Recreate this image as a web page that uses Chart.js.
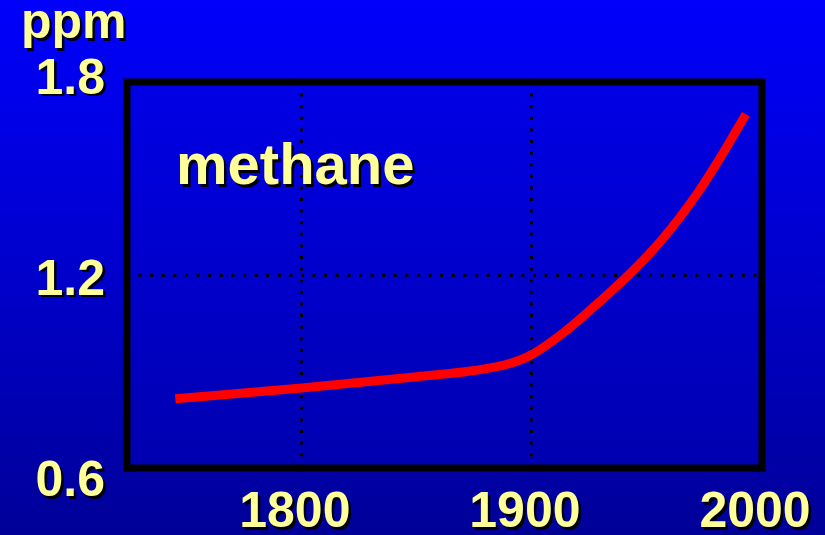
<!DOCTYPE html>
<html>
<head>
<meta charset="utf-8">
<script src="https://cdn.jsdelivr.net/npm/chart.js@4/dist/chart.umd.min.js"></script>
<style>
  html, body { margin: 0; padding: 0; }
  body {
    width: 825px; height: 535px; overflow: hidden;
    background: linear-gradient(to bottom, #0000fc 0%, #0000c8 55%, #000098 100%);
  }
  #chart { display: block; }
</style>
</head>
<body>
<canvas id="chart" width="825" height="535"></canvas>
<script>
// methane concentration (ppm)
const years   = [1745, 1800, 1850, 1875, 1890, 1900, 1914, 1928, 1943, 1957, 1972, 1983, 1993];
const methane = [0.815, 0.849, 0.884, 0.903, 0.924, 0.953, 1.022, 1.108, 1.207, 1.314, 1.455, 1.578, 1.700];

const xTicks = [1800, 1900, 2000];
const yTicks = [0.6, 1.2, 1.8];

const seriesLabel = 'methane';
const unitLabel   = 'ppm';

const YELLOW = '#ffff99';
const FONT   = '"Liberation Sans", Arial, sans-serif';

function shadowText(ctx, text, x, y, size, align) {
  ctx.save();
  ctx.font = `bold ${size}px ${FONT}`;
  ctx.textAlign = align || 'left';
  ctx.textBaseline = 'alphabetic';
  ctx.fillStyle = '#000';
  ctx.fillText(text, x + 2.5, y + 2.5);
  ctx.fillStyle = YELLOW;
  ctx.fillText(text, x, y);
  ctx.restore();
}

const plotDecor = {
  id: 'plotDecor',
  beforeDraw(chart) {
    const { ctx, chartArea: a } = chart;
    const g = ctx.createLinearGradient(0, a.top, 0, a.bottom);
    g.addColorStop(0, '#0000e6');
    g.addColorStop(1, '#0000b0');
    ctx.save();
    ctx.fillStyle = g;
    ctx.fillRect(a.left, a.top, a.right - a.left, a.bottom - a.top);
    ctx.restore();
  },
  afterDatasetsDraw(chart) {
    const { ctx, chartArea: a } = chart;
    ctx.save();
    ctx.strokeStyle = '#000';
    ctx.lineWidth = 7;
    ctx.strokeRect(a.left, a.top, a.right - a.left, a.bottom - a.top);
    ctx.restore();
  },
  afterDraw(chart) {
    const { ctx } = chart;
    const xs = chart.scales.x, ys = chart.scales.y;

    // y tick labels
    ys.ticks.forEach((t, i) => {
      const py = ys.getPixelForTick(i);
      shadowText(ctx, t.value.toFixed(1), 105, py + 11.5 + (py - ys.top) * 0.044, 50, 'right');
    });
    // x tick labels
    xs.ticks.forEach((t, i) => {
      const px = xs.getPixelForTick(i);
      shadowText(ctx, String(t.value), px - 7, 527, 50, 'center');
    });

    shadowText(ctx, unitLabel, 21, 38, 50, 'left');
    shadowText(ctx, seriesLabel, 176, 184, 58, 'left');
  }
};

new Chart(document.getElementById('chart'), {
  type: 'line',
  data: {
    datasets: [{
      label: seriesLabel,
      data: years.map((y, i) => ({ x: y, y: methane[i] })),
      borderColor: '#ff0000',
      borderWidth: 9,
      borderCapStyle: 'butt',
      pointRadius: 0,
      fill: false,
      cubicInterpolationMode: 'monotone',
    }],
  },
  options: {
    responsive: false,
    animation: false,
    events: [],
    layout: { padding: { left: 0, top: 82, right: 63, bottom: 0 } },
    plugins: {
      legend: { display: false },
      tooltip: { enabled: false },
    },
    scales: {
      x: {
        type: 'linear',
        min: 1724,
        max: 2000,
        afterBuildTicks: s => { s.ticks = xTicks.map(v => ({ value: v })); },
        afterFit: s => { s.height = 67; },
        ticks: { display: false },
        grid: { color: '#000', lineWidth: 3, drawTicks: false },
        border: { display: false, dash: [3, 8.6] },
      },
      y: {
        type: 'linear',
        min: 0.6,
        max: 1.8,
        afterBuildTicks: s => { s.ticks = yTicks.map(v => ({ value: v })); },
        afterFit: s => { s.width = 127; },
        ticks: { display: false },
        grid: { color: '#000', lineWidth: 3, drawTicks: false },
        border: { display: false, dash: [3, 8.6] },
      },
    },
  },
  plugins: [plotDecor],
});
</script>
</body>
</html>
